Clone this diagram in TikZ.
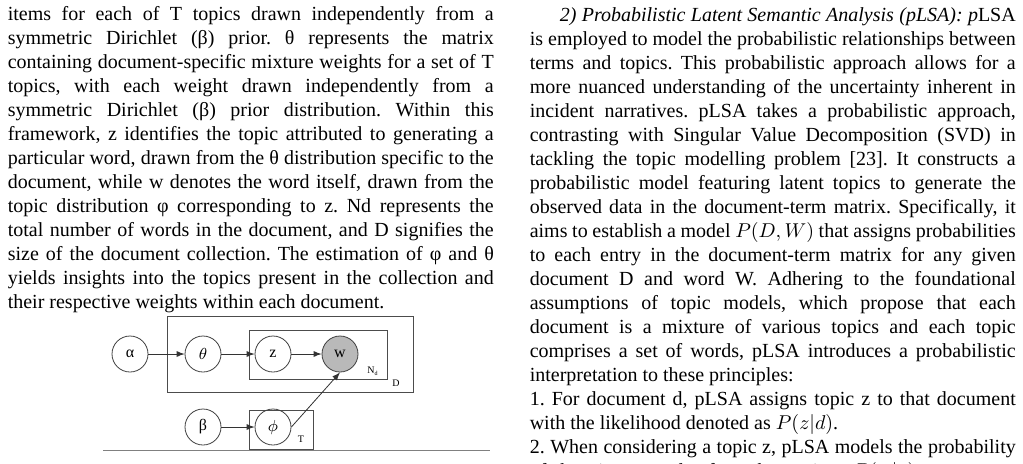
\documentclass[tikz,border=0pt]{standalone}
\usepackage{fontspec}
\setmainfont{Liberation Serif}
\usetikzlibrary{positioning}
\frenchspacing
\newcommand{\fullline}[1]{\makebox[243pt][s]{#1}}
\newcommand{\lastline}[1]{\makebox[243pt][l]{#1}}

\begin{document}
\begin{tikzpicture}[x=0.5pt,y=-0.5pt,thick]
    %
    % `txt' is used for each printed line, `var' for the model variables.
    \tikzstyle{txt} = [anchor=base west,inner sep=0pt,font=\fontsize{10}{12}\selectfont]
    \tikzstyle{var} = [draw=black!75,shape=circle,minimum size=18pt,inner sep=0pt,line width=0.4pt,font=\fontsize{8}{9}\selectfont]
    \tikzstyle{plate} = [draw=black!70,line width=0.4pt]
    \tikzstyle{tag} = [inner sep=0pt,font=\fontsize{5}{6}\selectfont]
    \tikzstyle{link} = [->,>=latex,line width=0.4pt,black!80]
    \useasboundingbox (0,0) rectangle (1023,463);
    %
    % Left column
    \node[txt] (l1) at (7,20) {\fullline{items for each of T topics drawn independently from a}};
    \node[txt] (l2) at (7,44) {\fullline{symmetric Dirichlet (β) prior. θ represents the matrix}};
    \node[txt] (l3) at (7,68) {\fullline{containing document-specific mixture weights for a set of T}};
    \node[txt] (l4) at (7,92) {\fullline{topics, with each weight drawn independently from a}};
    \node[txt] (l5) at (7,116) {\fullline{symmetric Dirichlet (β) prior distribution. Within this}};
    \node[txt] (l6) at (7,140) {\fullline{framework, z identifies the topic attributed to generating a}};
    \node[txt] (l7) at (7,164) {\fullline{particular word, drawn from the θ distribution specific to the}};
    \node[txt] (l8) at (7,188) {\fullline{document, while w denotes the word itself, drawn from the}};
    \node[txt] (l9) at (7,212) {\fullline{topic distribution φ corresponding to z. Nd represents the}};
    \node[txt] (l10) at (7,236) {\fullline{total number of words in the document, and D signifies the}};
    \node[txt] (l11) at (7,260) {\fullline{size of the document collection. The estimation of φ and θ}};
    \node[txt] (l12) at (7,284) {\fullline{yields insights into the topics present in the collection and}};
    \node[txt] (l13) at (7,308) {\lastline{their respective weights within each document.}};
    %
    % Plates
    \draw[plate] (167,316) rectangle (413,392);
    \draw[plate] (249,330) rectangle (387,379);
    \draw[plate] (249,410) rectangle (313,449);
    \node[tag] (nd) at (373,371) {N\textsubscript{\fontsize{3}{4}\selectfont d}};
    \node[tag] (dd) at (396,383) {D};
    \node[tag] (tt) at (301,439) {T};
    %
    % Variables
    \node[var] (alpha) at (130,354) {α};
    \node[var] (theta) at (203,354) {$\theta$};
    \node[var] (z) at (273,354) {z};
    \node[var,fill=gray!55] (w) at (340,354) {w};
    \node[var] (beta) at (203,427) {β};
    \node[var] (phi) at (273,427) {$\phi$};
    \draw[link] (alpha) -- (theta);
    \draw[link] (theta) -- (z);
    \draw[link] (z) -- (w);
    \draw[link] (beta) -- (phi);
    \draw[link] (phi.east) -- (w.south);
    \draw[line width=0.4pt,gray] (103,450) -- (490,450);
    %
    % Right column
    \node[txt] (r1) at (529,21) {\makebox[243pt][s]{\hspace*{15pt}\textit{2) Probabilistic Latent Semantic Analysis (pLSA): p}LSA}};
    \node[txt] (r2) at (529,45) {\fullline{is employed to model the probabilistic relationships between}};
    \node[txt] (r3) at (529,69) {\fullline{terms and topics. This probabilistic approach allows for a}};
    \node[txt] (r4) at (529,93) {\fullline{more nuanced understanding of the uncertainty inherent in}};
    \node[txt] (r5) at (529,117) {\fullline{incident narratives. pLSA takes a probabilistic approach,}};
    \node[txt] (r6) at (529,141) {\fullline{contrasting with Singular Value Decomposition (SVD) in}};
    \node[txt] (r7) at (529,165) {\fullline{tackling the topic modelling problem [23]. It constructs a}};
    \node[txt] (r8) at (529,189) {\fullline{probabilistic model featuring latent topics to generate the}};
    \node[txt] (r9) at (529,213) {\fullline{observed data in the document-term matrix. Specifically, it}};
    \node[txt] (r10) at (529,237) {\fullline{aims to establish a model $P(D,W)$ that assigns probabilities}};
    \node[txt] (r11) at (529,261) {\fullline{to each entry in the document-term matrix for any given}};
    \node[txt] (r12) at (529,285) {\fullline{document D and word W. Adhering to the foundational}};
    \node[txt] (r13) at (529,309) {\fullline{assumptions of topic models, which propose that each}};
    \node[txt] (r14) at (529,333) {\fullline{document is a mixture of various topics and each topic}};
    \node[txt] (r15) at (529,357) {\fullline{comprises a set of words, pLSA introduces a probabilistic}};
    \node[txt] (r16) at (529,381) {\lastline{interpretation to these principles:}};
    \node[txt] (r17) at (529,405) {\fullline{1. For document d, pLSA assigns topic z to that document}};
    \node[txt] (r18) at (529,429) {\lastline{with the likelihood denoted as $P(z|d)$.}};
    \node[txt] (r19) at (529,453) {\fullline{2. When considering a topic z, pLSA models the probability}};
    \node[txt] (r20) at (529,477) {\lastline{of choosing a word w from that topic as $P(w|z)$.}};
\end{tikzpicture}
\end{document}
